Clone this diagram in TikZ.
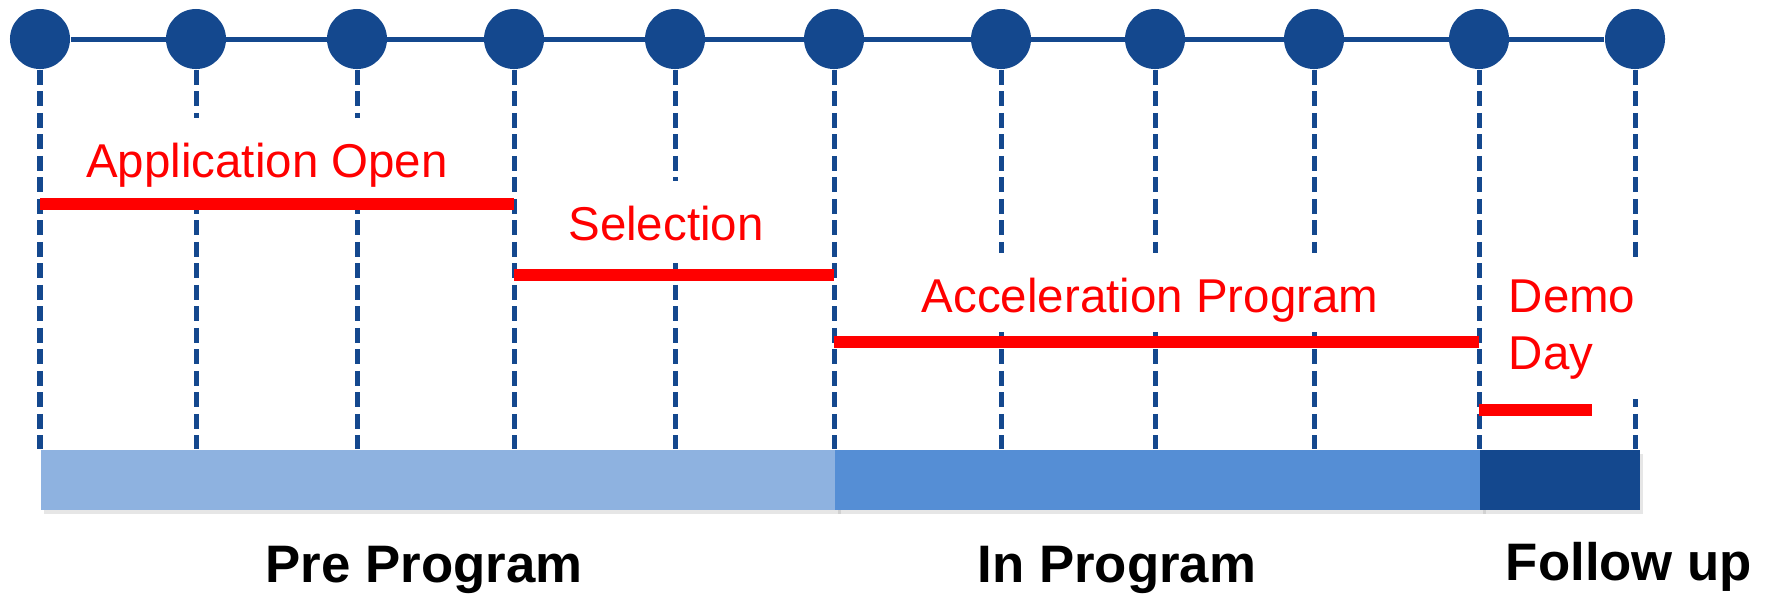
\documentclass[tikz,border=0pt]{standalone}
\usepackage{fontspec}
\setmainfont{Liberation Sans}
\usetikzlibrary{positioning, shadows}
\definecolor{dkblue}{RGB}{20,72,142}
\definecolor{midblue}{RGB}{85,142,213}
\definecolor{ltblue}{RGB}{142,178,224}
\tikzstyle{milestone}=[circle,fill=dkblue,inner sep=0pt,minimum size=0.6cm]
\tikzstyle{guide}=[dkblue,line width=0.05cm,dash pattern=on 0.15cm off 0.065cm]
\tikzstyle{span}=[red,line width=0.12cm]
\tikzstyle{tlabel}=[text=red,fill=white,font=\fontsize{13.5pt}{16.2pt}\selectfont,inner xsep=0.05cm,inner ysep=0pt]
\tikzstyle{oneline}=[anchor=base,text height=0.59cm,text depth=0.2cm]
\tikzstyle{phase}=[inner sep=0pt,minimum height=0.6cm,anchor=north west,drop shadow={opacity=0.2,shadow xshift=0.03cm,shadow yshift=-0.04cm}]
\tikzstyle{plabel}=[font=\fontsize{15pt}{18pt}\selectfont\bfseries,anchor=base]

\begin{document}
\begin{tikzpicture}[x=0.01cm,y=-0.01cm]
  \useasboundingbox (0,0) rectangle (1767,593);
  % milestones
  \foreach \x [count=\i] in {40,196,357,514,675,834,1001,1155,1314,1479,1635}
    \node[milestone] (c\i) at (\x,39) {};
  \draw[dkblue,line width=0.05cm] (c1) -- (c11);
  % phase bar
  \node[phase,fill=ltblue,minimum width=7.97cm] (pre) at (40,449) {};
  \node[phase,fill=midblue,minimum width=6.48cm] (in) at (834,449) {};
  \node[phase,fill=dkblue,minimum width=1.6cm] (follow) at (1479,449) {};
  % guides
  \foreach \i in {1,...,11}
    \draw[guide] (c\i.south) -- (c\i |- pre.north);
  % activities
  \node[tlabel,oneline] (app) at (267,177) {Application Open};
  \node[tlabel,oneline] (sel) at (666,240) {Selection};
  \node[tlabel,oneline] (acc) at (1150,312) {Acceleration Program};
  \node[tlabel,align=left,anchor=north west,minimum height=1.39cm,inner xsep=0.1cm] (demo) at (1498,259) {Demo\\Day};
  \coordinate (dend) at (1592,410);
  \draw[span] (c1 |- 0,204) -- (c4 |- 0,204);
  \draw[span] (c4 |- 0,275) -- (c6 |- 0,275);
  \draw[span] (c6 |- 0,342) -- (c10 |- 0,342);
  \draw[span] (c10 |- dend) -- (dend);
  % phase names
  \node[plabel] (lpre) at (424,582) {Pre Program};
  \node[plabel] (lin) at (1117,582) {In Program};
  \node[plabel] (lfol) at (1629,580) {Follow up};
\end{tikzpicture}
\end{document}
